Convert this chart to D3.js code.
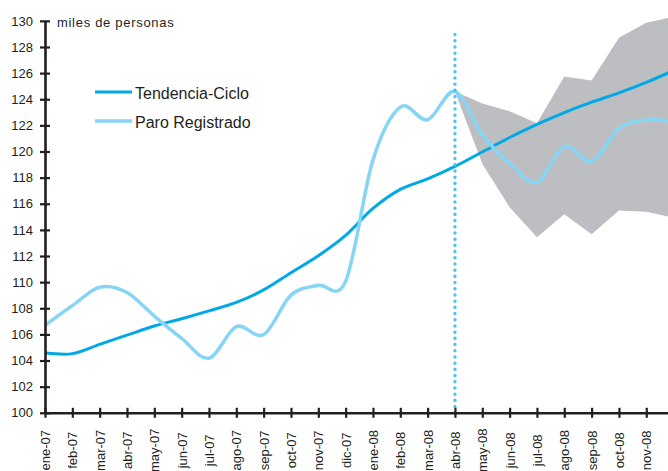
<!DOCTYPE html>
<html>
<head>
<meta charset="utf-8">
<style>
    body { margin: 0; background: #fff; }
    svg { display: block; font-family: Arial, 'Liberation Sans', sans-serif; }
    .axis text { fill: #231f20; }
</style>
</head>
<body>
<svg width="668" height="471"></svg>

<script src="https://d3js.org/d3.v7.min.js"></script>
<script>
    // months shown on the x axis (the last one is cut off by the frame)
    let months = ["ene-07", "feb-07", "mar-07", "abr-07", "may-07", "jun-07", "jul-07", "ago-07",
        "sep-07", "oct-07", "nov-07", "dic-07", "ene-08", "feb-08", "mar-08", "abr-08",
        "may-08", "jun-08", "jul-08", "ago-08", "sep-08", "oct-08", "nov-08", "dic-08"];

    let yTicks = [100, 102, 104, 106, 108, 110, 112, 114, 116, 118, 120, 122, 124, 126, 128, 130];

    // miles de personas
    let tendencia = [104.60, 104.53, 105.24, 105.94, 106.64, 107.20, 107.80, 108.45,
        109.41, 110.72, 112.02, 113.58, 115.64, 117.10, 117.90, 118.86,
        119.96, 121.07, 122.07, 122.98, 123.78, 124.49, 125.29, 126.20];

    let paro = [106.69, 108.20, 109.61, 109.21, 107.40, 105.69, 104.18, 106.59,
        105.99, 109.01, 109.76, 110.06, 119.36, 123.40, 122.43, 124.59,
        121.27, 119.11, 117.65, 120.37, 119.26, 121.77, 122.41, 122.28];

    // forecast band, abr-08 .. dic-08
    let bandMonths = months.slice(15);
    let bandHigh = [124.59, 123.68, 123.08, 122.17, 125.74, 125.44, 128.71, 129.86, 130.32];
    let bandLow = [124.59, 119.06, 115.74, 113.43, 115.19, 113.67, 115.49, 115.39, 114.94];

    let cutMonth = "abr-08";

    let svg = d3.select("svg");
    let ink = "#231f20";

    let x = d3.scalePoint()
        .domain(months)
        .range([45, 673.6]);

    let y = d3.scaleLinear()
        .domain([100, 130])
        .range([412.8, 20.85]);

    // gray band
    let band = bandMonths.map((m, i) => ({ m: m, hi: bandHigh[i], lo: bandLow[i] }));
    let area = d3.area()
        .x(d => x(d.m))
        .y0(d => y(d.lo))
        .y1(d => y(d.hi));

    svg.append("path")
        .datum(band)
        .attr("d", area)
        .style("fill", "#bdbec1");

    let line = d3.line()
        .x((d, i) => x(months[i]))
        .y(d => y(d))
        .curve(d3.curveCatmullRom.alpha(0));

    svg.append("path")
        .datum(tendencia)
        .attr("d", line)
        .style("fill", "none")
        .style("stroke", "#00a9e6")
        .style("stroke-width", 3);

    svg.append("path")
        .datum(paro)
        .attr("d", line)
        .style("fill", "none")
        .style("stroke", "#87d5f5")
        .style("stroke-width", 3.5);

    // dotted line at the last observed month
    svg.append("line")
        .attr("x1", x(cutMonth))
        .attr("x2", x(cutMonth))
        .attr("y1", y(100))
        .attr("y2", y(129.4))
        .style("stroke", "#4cc3ef")
        .style("stroke-width", 3.4)
        .style("stroke-linecap", "round")
        .style("stroke-dasharray", "0.1 6.1");

    // axes
    let yAxis = svg.append("g")
        .attr("class", "axis")
        .attr("transform", "translate(" + x(months[0]) + ",0)")
        .call(d3.axisLeft(y).tickValues(yTicks).tickSize(5).tickSizeOuter(0).tickPadding(7));

    yAxis.select(".domain").style("stroke", ink).style("stroke-width", 2.6);
    yAxis.selectAll(".tick line").attr("x1", -5).attr("x2", 5)
        .style("stroke", ink).style("stroke-width", 2.2);
    yAxis.selectAll(".tick text").style("font-size", "13px");

    let xAxis = svg.append("g")
        .attr("class", "axis")
        .attr("transform", "translate(0," + y(100) + ")")
        .call(d3.axisBottom(x).tickSize(5).tickSizeOuter(0));

    xAxis.select(".domain").style("stroke", ink).style("stroke-width", 2.6);
    xAxis.selectAll(".tick line").attr("y1", -5).attr("y2", 5)
        .style("stroke", ink).style("stroke-width", 2.2);
    xAxis.selectAll(".tick text")
        .attr("transform", "rotate(-90)")
        .attr("x", -37.5)
        .attr("y", 0)
        .attr("dy", "0.35em")
        .style("text-anchor", "middle")
        .style("font-size", "13px");

    svg.append("text")
        .attr("x", 57)
        .attr("y", 27)
        .text("miles de personas")
        .style("font-size", "13px")
        .style("letter-spacing", "0.7px")
        .style("fill", ink);

    // legend
    let legend = [
        { name: "Tendencia-Ciclo", color: "#00a9e6", w: 3, ly: 92 },
        { name: "Paro Registrado", color: "#87d5f5", w: 3.5, ly: 121 }
    ];

    let lg = svg.selectAll(".legend")
        .data(legend)
        .join("g")
        .attr("class", "legend");

    lg.append("line")
        .attr("x1", 95)
        .attr("x2", 132)
        .attr("y1", d => d.ly)
        .attr("y2", d => d.ly)
        .style("stroke", d => d.color)
        .style("stroke-width", d => d.w);

    lg.append("text")
        .attr("x", 135)
        .attr("y", d => d.ly + 7)
        .text(d => d.name)
        .style("font-size", "16px")
        .style("fill", ink);
</script>
</body>
</html>
